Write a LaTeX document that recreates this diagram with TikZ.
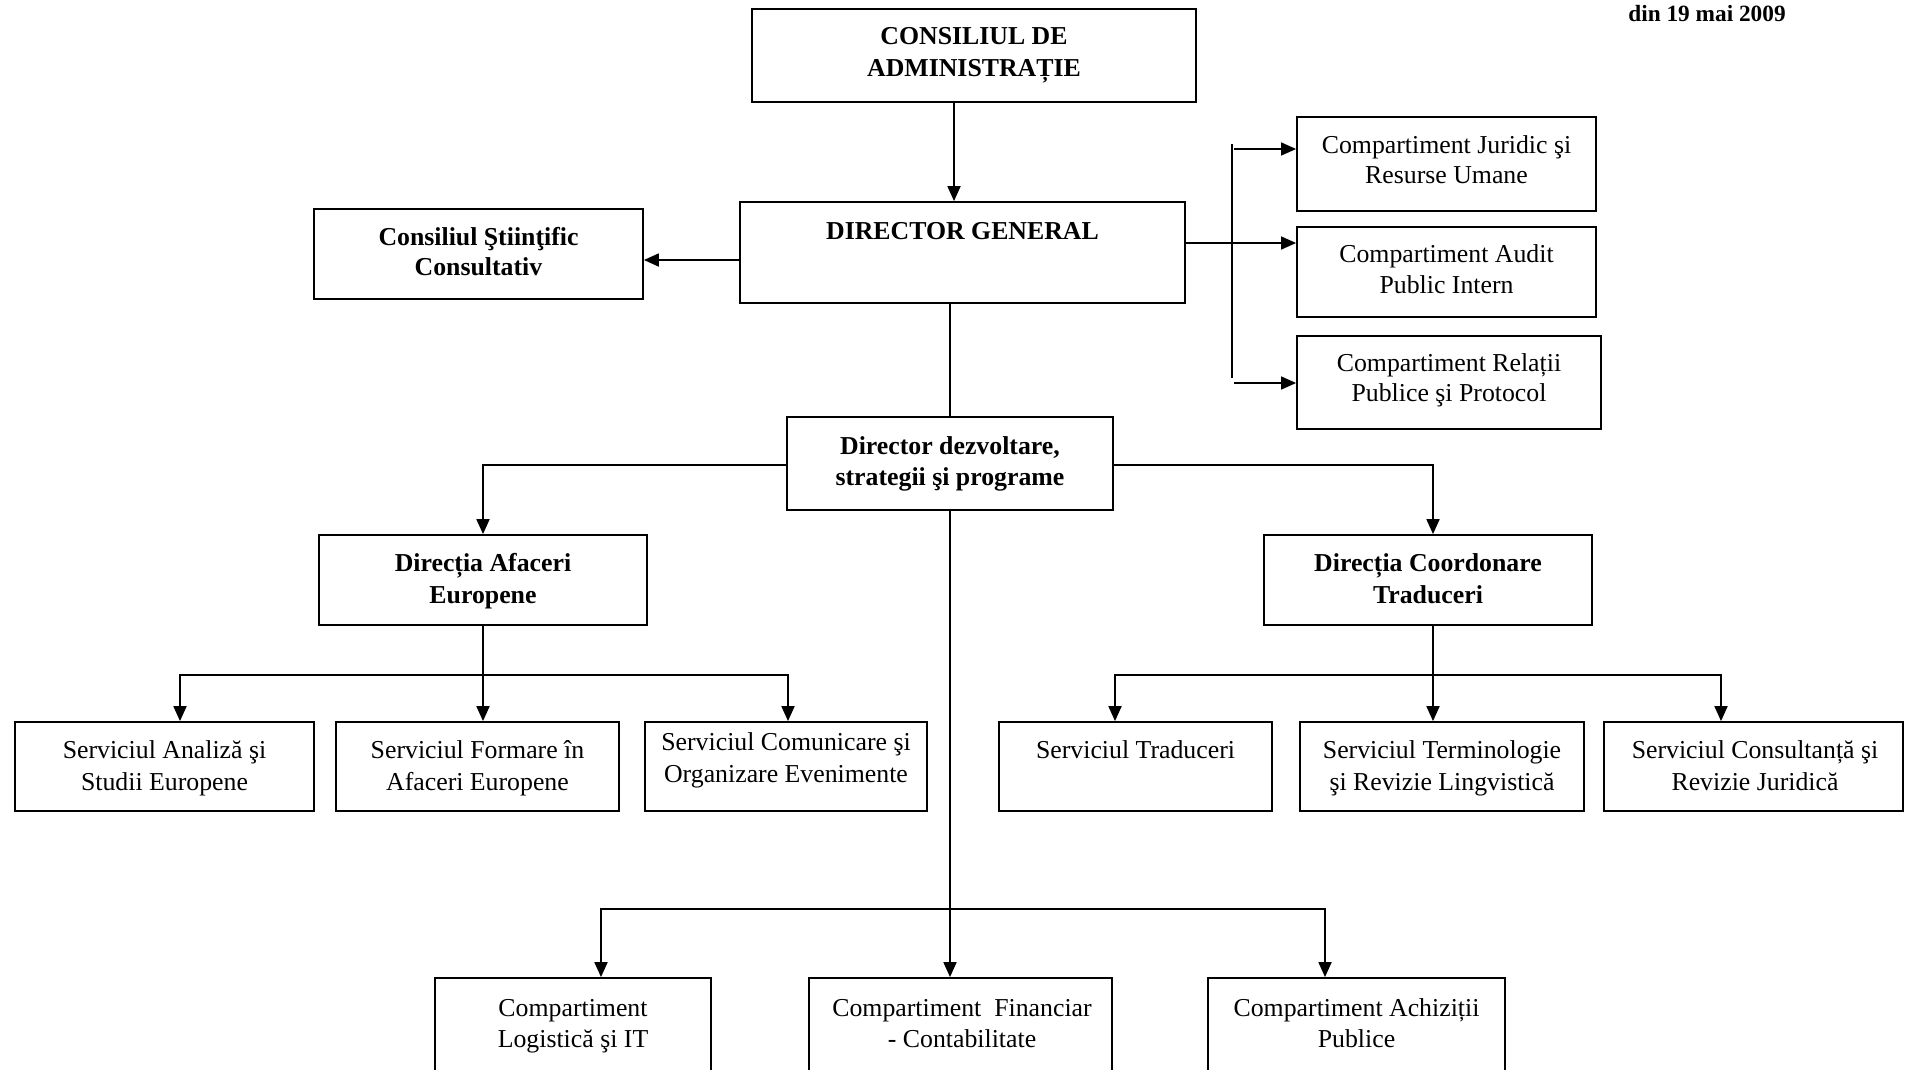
\documentclass[tikz,border=0pt]{standalone}
\usepackage{fontspec}
\setmainfont{Liberation Serif}
\usetikzlibrary{arrows.meta}
\newcommand{\ml}[1]{\begin{tabular}[t]{@{}c@{}}#1\end{tabular}}
\begin{document}
\begin{tikzpicture}[x=1pt,y=-1pt,
  box/.style={draw, line width=1.8pt, inner sep=0pt},
  txt/.style={anchor=base, inner sep=0pt, font=\fontsize{25.8}{30}\selectfont},
  btxt/.style={anchor=base, inner sep=0pt, font=\bfseries\fontsize{25.8}{30}\selectfont},
  conn/.style={line width=1.8pt},
  thinconn/.style={line width=1.4pt},
  arr/.style={conn, -{Triangle[length=15pt,width=13pt]}},
  tarr/.style={thinconn, -{Triangle[length=15pt,width=13pt]}}]
\fill[white] (0,0) rectangle (1908,1069);
\clip (0,0) rectangle (1908,1069);

% boxes
\node[box, minimum width=444pt, minimum height=93pt] (ca) at (974,55.5) {};
\node[box, minimum width=445pt, minimum height=101pt] (dg) at (962.5,252.5) {};
\node[box, minimum width=329pt, minimum height=90pt] (csc) at (478.5,254) {};
\node[box, minimum width=299pt, minimum height=94pt] (cj) at (1446.5,164) {};
\node[box, minimum width=299pt, minimum height=90pt] (cau) at (1446.5,272) {};
\node[box, minimum width=304pt, minimum height=93pt] (cr) at (1449,382.5) {};
\node[box, minimum width=326pt, minimum height=93pt] (dd) at (950,463.5) {};
\node[box, minimum width=328pt, minimum height=90pt] (dae) at (483,580) {};
\node[box, minimum width=328pt, minimum height=90pt] (dct) at (1428,580) {};
\node[box, minimum width=299pt, minimum height=89pt] (sa) at (164.5,766.5) {};
\node[box, minimum width=283pt, minimum height=89pt] (sf) at (477.5,766.5) {};
\node[box, minimum width=282pt, minimum height=89pt] (sc) at (786,766.5) {};
\node[box, minimum width=273pt, minimum height=89pt] (st) at (1135.5,766.5) {};
\node[box, minimum width=284pt, minimum height=89pt] (ste) at (1442,766.5) {};
\node[box, minimum width=299pt, minimum height=89pt] (sco) at (1753.5,766.5) {};
\node[box, minimum width=276pt, minimum height=122pt] (cl) at (573,1039) {};
\node[box, minimum width=303pt, minimum height=122pt] (cf) at (960.5,1039) {};
\node[box, minimum width=297pt, minimum height=122pt] (cap) at (1356.5,1039) {};

% texts
\node[btxt, font=\bfseries\fontsize{23.3}{28}\selectfont] (date) at (1707,21) {din 19 mai 2009};
\node[btxt, font=\bfseries\fontsize{25.8}{32}\selectfont] (cat) at (974,44) {\ml{CONSILIUL DE\\ADMINISTRAȚIE}};
\node[btxt] (dgt) at (962.5,239) {DIRECTOR GENERAL};
\node[btxt, font=\bfseries\fontsize{25.8}{30}\selectfont] (csct) at (478.5,245) {\ml{Consiliul Ştiinţific\\Consultativ}};
\node[txt] (cjt) at (1446.5,153) {\ml{Compartiment Juridic şi\\Resurse Umane}};
\node[txt, font=\fontsize{25.8}{31}\selectfont] (caut) at (1446.5,262) {\ml{Compartiment Audit\\Public Intern}};
\node[txt] (crt) at (1449,371) {\ml{Compartiment Relații\\Publice şi Protocol}};
\node[btxt, font=\bfseries\fontsize{25.8}{31}\selectfont] (ddt) at (950,454) {\ml{Director dezvoltare,\\strategii şi programe}};
\node[btxt, font=\bfseries\fontsize{25.8}{32}\selectfont] (daet) at (483,571) {\ml{Direcția Afaceri\\Europene}};
\node[btxt, font=\bfseries\fontsize{25.8}{32}\selectfont] (dctt) at (1428,571) {\ml{Direcția Coordonare\\Traduceri}};
\node[txt, font=\fontsize{25.8}{32}\selectfont] (sat) at (164.5,758) {\ml{Serviciul Analiză şi\\Studii Europene}};
\node[txt, font=\fontsize{25.8}{32}\selectfont] (sft) at (477.5,758) {\ml{Serviciul Formare în\\Afaceri Europene}};
\node[txt, font=\fontsize{25.8}{32}\selectfont] (sct) at (786,750) {\ml{Serviciul Comunicare şi\\Organizare Evenimente}};
\node[txt] (stt) at (1135.5,758) {Serviciul Traduceri};
\node[txt, font=\fontsize{25.8}{32}\selectfont] (stet) at (1442,758) {\ml{Serviciul Terminologie\\şi Revizie Lingvistică}};
\node[txt, font=\fontsize{25.8}{32}\selectfont] (scot) at (1755,758) {\ml{Serviciul Consultanță şi\\Revizie Juridică}};
\node[txt, font=\fontsize{25.8}{31}\selectfont] (clt) at (573,1016) {\ml{Compartiment\\Logistică şi IT}};
\node[txt, font=\fontsize{25.8}{31}\selectfont] (cft) at (962,1016) {\ml{Compartiment\ \ Financiar\\- Contabilitate}};
\node[txt, font=\fontsize{25.8}{31}\selectfont] (capt) at (1356.5,1016) {\ml{Compartiment Achiziții\\Publice}};

% connectors
\coordinate (xa) at (954,0);
\draw[arr] (ca.south -| xa) -- (dg.north -| xa);
\coordinate (ya) at (0,260);
\draw[arr] (dg.west |- ya) -- (csc.east |- ya);
\coordinate (yb) at (0,243);
\draw[tarr] (dg.east |- yb) -- (cau.west |- yb);
\coordinate (bt) at (1232,144);
\coordinate (bb) at (1232,378);
\draw[thinconn] (bt) -- (bb);
\coordinate (bj) at (1234,149);
\draw[tarr] (bj) -- (cj.west |- bj);
\coordinate (br) at (1234,383);
\draw[tarr] (br) -- (cr.west |- br);
\draw[conn] (dg.south -| dd.north) -- (dd.north);
\coordinate (yc) at (0,465);
\draw[arr] (dd.west |- yc) -| (dae.north);
\draw[arr] (dd.east |- yc) -| ([xshift=5pt]dct.north);
% left services
\coordinate (lbus) at (483,675);
\draw[conn] (dae.south) -- (lbus);
\draw[arr] (lbus) -| ([xshift=15.5pt]sa.north);
\draw[arr] (lbus) -- (sf.north -| lbus);
\draw[arr] (lbus) -| ([xshift=2pt]sc.north);
% right services
\coordinate (rbus) at (1433,675);
\draw[conn] (dct.south -| rbus) -- (rbus);
\draw[arr] (rbus) -| ([xshift=-20.5pt]st.north);
\draw[arr] (rbus) -- (ste.north -| rbus);
\draw[arr] (rbus) -| ([xshift=-32.5pt]sco.north);
% bottom
\coordinate (bbus) at (950,909);
\draw[conn] (dd.south) -- (bbus);
\draw[arr] (bbus) -| ([xshift=28pt]cl.north);
\draw[arr] (bbus) -- (cf.north -| bbus);
\draw[arr] (bbus) -| ([xshift=-31.5pt]cap.north);
\end{tikzpicture}
\end{document}
